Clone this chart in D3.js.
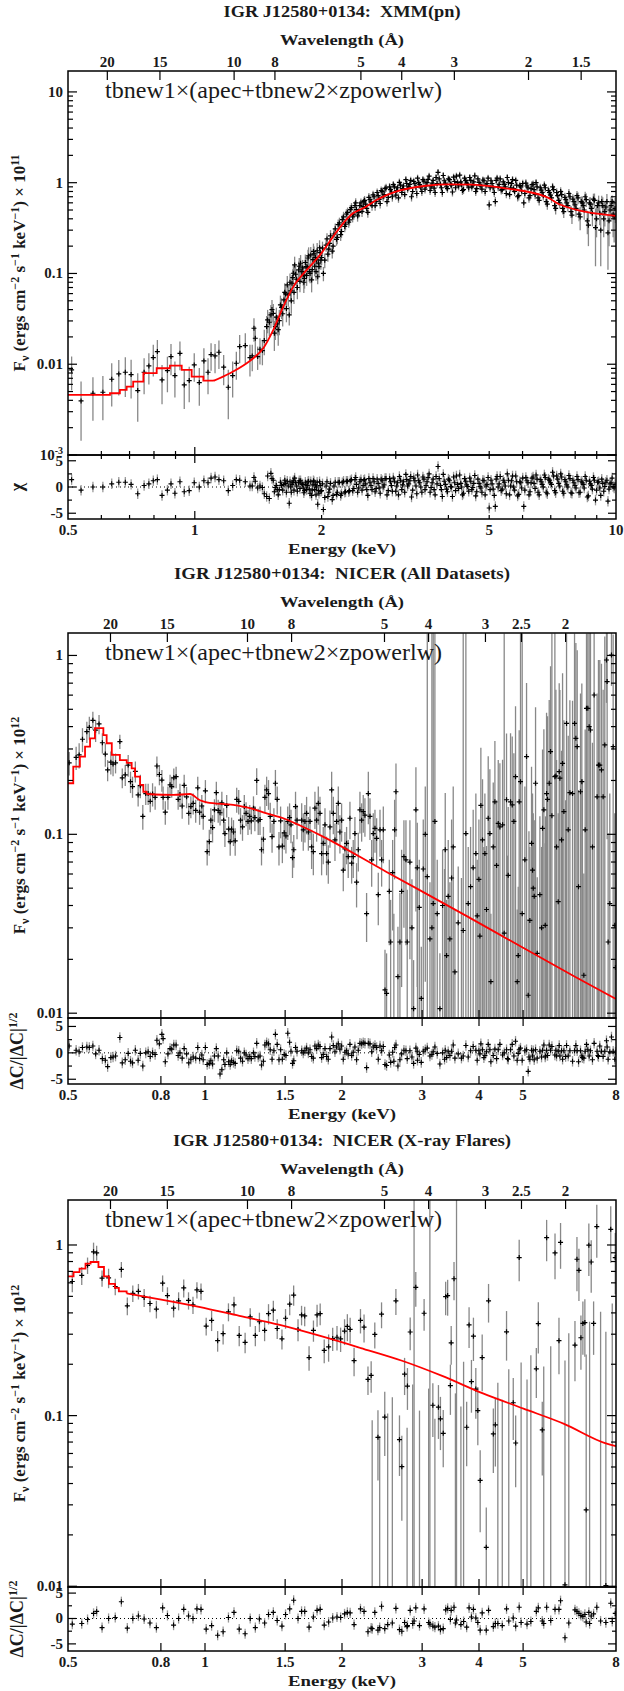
<!DOCTYPE html>
<html>
<head>
<meta charset="utf-8">
<script src="https://cdn.jsdelivr.net/npm/d3@7"></script>
<style>
body { margin: 0; background: #fff; }
svg { display: block; }
text { fill: #1a1a1a; white-space: pre; }
.tk { font-family: "Liberation Serif", serif; font-weight: bold; font-size: 15px; }
.ttl { font-family: "Liberation Serif", serif; font-weight: bold; }
.mdl { font-family: "Liberation Serif", serif; font-size: 23px; }
</style>
</head>
<body>
<svg id="chart" width="624" height="1691"></svg>
<script>
// ---- data: [energy keV, flux, sigma, residual] ----
var xmmData = [
 [0.510,0.00866,0.0035,1.4],[0.537,0.00394,0.0025,-0.6],[0.573,0.00479,0.0024,0],[0.605,0.00491,0.0025,0],
 [0.635,0.00683,0.0034,0.6],[0.660,0.00782,0.0033,0.9],[0.684,0.00816,0.0038,0.9],[0.706,0.00769,0.0035,0.5],
 [0.732,0.00513,0.0028,-1.3],[0.758,0.00816,0.0035,0.3],[0.778,0.00958,0.0036,0.6],[0.797,0.01184,0.0045,1.2],
 [0.815,0.01378,0.0047,1.4],[0.836,0.00672,0.0031,-1.6],[0.861,0.00851,0.0036,-0.6],[0.878,0.01215,0.0046,0.6],
 [0.897,0.0075,0.0032,-1.2],[0.922,0.0132,0.0046,1.0],[0.944,0.00592,0.0027,-0.9],[0.970,0.00661,0.0028,-0.7],
 [0.997,0.00983,0.0034,0.8],[1.025,0.00628,0.0028,0],[1.051,0.01088,0.0041,1.2],[1.075,0.00816,0.0035,0.8],
 [1.093,0.01277,0.0043,1.7],[1.117,0.01235,0.0044,1.9],[1.141,0.01355,0.0047,1.4],[1.171,0.00927,0.0034,1.2],
 [1.201,0.00558,0.0031,-0.7],[1.230,0.0075,0.0032,0.3],[1.255,0.01025,0.0035,1.4],[1.278,0.01564,0.0054,1.3],
 [1.318,0.01605,0.0059,1.0],[1.352,0.01184,0.0045,0.2],[1.369,0.01235,0.0040,0.2],[1.382,0.0249,0.0072,1.8],
 [1.392,0.01933,0.0067,1.1],[1.410,0.01215,0.0035,-0.2],[1.428,0.01462,0.0047,0.2],[1.447,0.01414,0.0044,-0.1],
 [1.462,0.01822,0.0057,-1.3],[1.481,0.0260,0.0080,-1.8],[1.489,0.0308,0.0089,2.1],[1.503,0.0290,0.0087,-2.2],
 [1.516,0.0349,0.0100,2.6],[1.536,0.0364,0.0098,1.3],[1.553,0.0260,0.0075,-0.1],[1.570,0.0278,0.0071,-0.5],
 [1.587,0.0303,0.0094,-0.5],[1.607,0.0424,0.011,0.3],[1.628,0.0511,0.012,0.5],[1.643,0.0595,0.015,0.7],
 [1.658,0.0747,0.019,1.1],[1.676,0.0349,0.0082,-3.1],[1.689,0.0642,0.015,0],[1.701,0.0780,0.018,0.5],
 [1.714,0.1005,0.024,1.2],[1.726,0.1241,0.029,1.7],[1.745,0.0863,0.023,0.2],[1.764,0.1093,0.026,0.8],
 [1.783,0.1295,0.030,1.2],[1.795,0.105,0.022,0.6],[1.810,0.0963,0.023,-0.2],[1.822,0.088,0.020,-0.7],
 [1.837,0.1190,0.028,0.4],[1.850,0.118,0.024,0.3],[1.863,0.1560,0.038,1.1],[1.878,0.100,0.022,-1.2],
 [1.894,0.0849,0.023,-1.6],[1.907,0.142,0.026,0.4],[1.919,0.1640,0.034,1.0],[1.946,0.1410,0.033,0],
 [1.958,0.092,0.016,-3.3],[1.972,0.1190,0.028,-1.2],[1.985,0.170,0.030,0.3],
 [1.525,0.040,0.011,1.6],[1.545,0.022,0.008,-0.9],[1.562,0.033,0.009,0.3],[1.578,0.024,0.008,-1.5],
 [1.597,0.045,0.012,0.9],[1.617,0.036,0.010,-0.6],[1.635,0.062,0.016,1.3],[1.650,0.041,0.012,-1.0],
 [1.667,0.058,0.015,0.2],[1.683,0.080,0.020,1.0],[1.695,0.050,0.014,-1.0],[1.708,0.090,0.021,0.8],
 [1.720,0.062,0.016,-0.6],[1.735,0.098,0.024,0.9],[1.752,0.070,0.018,-0.8],[1.770,0.120,0.028,1.2],
 [1.777,0.082,0.020,-0.3],[1.803,0.115,0.026,0.5],[1.815,0.080,0.019,-1.1],[1.830,0.132,0.030,0.9],
 [1.843,0.095,0.022,-0.5],[1.857,0.148,0.034,1.0],[1.870,0.105,0.024,-0.4],[1.885,0.160,0.036,1.0],
 [1.900,0.110,0.025,-0.6],[1.913,0.175,0.038,1.2],[1.926,0.120,0.027,-0.5],[1.933,0.150,0.032,0.4],
 [1.940,0.105,0.022,-1.5],[1.952,0.178,0.038,0.9],[1.965,0.130,0.028,-0.7],[1.978,0.192,0.040,1.0],
 [1.992,0.140,0.030,-0.8],
 [2.00,0.150,0.026,-0.7],[2.02,0.100,0.018,-4.3],[2.05,0.205,0.032,0.2],[2.07,0.163,0.028,-1.8],
 [2.09,0.214,0.034,-0.4],[2.12,0.176,0.030,-2.4],[2.14,0.272,0.040,0.2],[2.17,0.238,0.036,-1.4],
 [2.19,0.345,0.048,0.9],[2.22,0.268,0.040,-1.6],[2.24,0.392,0.052,0.8],[2.27,0.330,0.046,-1.0],
 [2.29,0.452,0.058,1.1],[2.32,0.368,0.050,-0.9],[2.34,0.505,0.062,1.2],[2.37,0.420,0.055,-0.7],
 [2.40,0.560,0.068,1.4],[2.42,0.505,0.062,0.5],[2.45,0.470,0.060,-0.2],[2.48,0.600,0.070,1.4],
 [2.51,0.545,0.066,0.3],[2.53,0.640,0.074,1.4],[2.56,0.520,0.064,-0.5],[2.59,0.690,0.078,1.6],
 [2.62,0.610,0.072,0.3],[2.65,0.735,0.082,1.6],[2.68,0.560,0.068,-0.9],[2.71,0.780,0.085,1.5],
 [2.74,0.655,0.076,-0.2],[2.77,0.820,0.088,1.5],[2.80,0.700,0.080,0],[2.83,0.860,0.090,1.6],
 [2.86,0.620,0.074,-1.5],[2.90,0.900,0.093,1.6],[2.93,0.790,0.086,0.3],[2.96,0.950,0.096,1.7],
 [3.00,0.730,0.082,-0.8],[3.03,0.880,0.092,0.8],[3.06,1.010,0.100,2.0],[3.10,0.780,0.086,-0.5],
 [3.13,0.920,0.094,1.0],[3.17,1.080,0.104,2.4],[3.20,0.860,0.090,0.2],[3.24,0.960,0.096,1.2],
 [3.27,0.700,0.080,-1.9],[3.31,1.030,0.100,1.7],[3.35,0.890,0.092,0.2],[3.38,1.120,0.106,2.3],
 [3.42,0.950,0.095,0.8],[3.46,0.800,0.085,-1.0],[3.50,1.040,0.100,1.5],[3.54,0.930,0.094,0.3],
 [3.58,1.090,0.104,1.8],[3.62,0.820,0.088,-1.0],[3.66,0.990,0.098,0.8],[3.70,0.870,0.090,-0.5],
 [3.74,1.140,0.108,2.0],[3.78,1.300,0.116,3.9],[3.83,0.960,0.096,0.3],[3.87,0.780,0.086,-1.8],
 [3.91,1.050,0.100,1.1],[3.96,0.900,0.092,-0.4],[4.00,1.100,0.104,1.5],[4.05,0.960,0.096,0.1],
 [4.09,0.790,0.086,-1.8],[4.14,1.030,0.100,0.8],[4.18,1.180,0.110,2.1],[4.23,0.920,0.094,-0.3],
 [4.28,1.020,0.100,0.7],[4.32,0.820,0.088,-1.5],[4.37,1.120,0.106,1.6],[4.42,0.990,0.098,0.4],
 [4.47,0.880,0.092,-0.8],[4.52,1.060,0.102,1.1],[4.57,0.940,0.095,-0.1],[4.62,1.190,0.110,2.2],
 [4.67,0.860,0.090,-0.9],[4.73,1.010,0.100,0.7],[4.78,0.920,0.094,-0.2],[4.83,1.070,0.103,1.3],
 [4.89,0.800,0.087,-1.5],[4.94,0.980,0.098,0.5],[5.00,0.570,0.070,-4.0],[5.05,1.050,0.102,1.3],
 [5.11,0.880,0.092,-0.4],[5.17,0.620,0.074,-3.7],[5.22,1.120,0.106,2.0],[5.28,0.960,0.096,0.6],
 [5.34,0.830,0.089,-0.7],[5.40,1.020,0.100,1.3],[5.46,0.900,0.092,0.2],[5.52,1.140,0.108,2.5],
 [5.59,0.740,0.082,-1.5],[5.65,0.980,0.098,1.2],[5.71,0.860,0.090,0],[5.78,1.060,0.102,2.1],
 [5.84,0.700,0.080,-1.7],[5.91,0.930,0.094,1.0],[5.97,0.810,0.088,-0.2],[6.04,0.600,0.074,-3.7],
 [6.11,0.990,0.098,1.8],[6.18,0.880,0.092,0.8],[6.25,0.720,0.082,-0.9],[6.32,0.950,0.096,1.7],
 [6.39,0.840,0.090,0.7],[6.46,1.000,0.100,2.3],[6.53,0.680,0.080,-1.0],[6.61,0.880,0.092,1.4],
 [6.68,0.780,0.086,0.5],[6.76,0.940,0.096,2.3],[6.83,0.620,0.078,-1.0],[6.91,0.820,0.088,1.5],
 [6.99,0.730,0.084,0.8],[7.07,0.900,0.094,2.8],[7.15,0.560,0.074,-0.7],[7.23,0.780,0.088,2.1],
 [7.31,0.640,0.080,0.7],[7.39,0.800,0.090,2.5],[7.47,0.520,0.072,-0.8],[7.56,0.690,0.084,1.4],
 [7.64,0.600,0.080,0.4],[7.73,0.760,0.090,2.2],[7.82,0.480,0.072,-1.1],[7.90,0.660,0.084,1.3],
 [7.99,0.570,0.080,0.3],[8.08,0.720,0.092,2.0],[8.17,0.450,0.074,-1.1],[8.27,0.620,0.086,1.1],
 [8.36,0.560,0.082,0.5],[8.45,0.700,0.094,2.0],[8.55,0.380,0.110,-1.9],[8.65,0.600,0.088,1.1],
 [8.74,0.520,0.084,0.3],[8.84,0.660,0.096,1.8],[8.94,0.320,0.200,-2.5],[9.04,0.560,0.090,0.9],
 [9.15,0.460,0.120,-0.2],[9.25,0.620,0.098,1.5],[9.35,0.400,0.150,-0.8],[9.46,0.540,0.094,0.9],
 [9.57,0.280,0.170,-2.7],[9.68,0.500,0.120,0.6],[9.79,0.620,0.104,1.7],[9.90,0.420,0.200,-0.2],
 [2.01,0.190,0.034,0.6],[2.035,0.140,0.026,-2.0],[2.06,0.240,0.038,1.0],[2.08,0.185,0.032,-1.0],
 [2.10,0.260,0.040,0.7],[2.13,0.200,0.034,-1.6],[2.155,0.310,0.046,0.9],[2.18,0.250,0.040,-1.0],
 [2.205,0.360,0.052,0.9],[2.23,0.290,0.044,-1.3],[2.255,0.420,0.058,1.1],[2.28,0.350,0.050,-0.9],
 [2.305,0.470,0.062,1.1],[2.33,0.390,0.054,-0.7],[2.355,0.530,0.066,1.4],[2.385,0.450,0.060,-0.3],
 [2.41,0.600,0.072,1.8],[2.435,0.430,0.058,-1.0],[2.465,0.560,0.068,1.0],[2.495,0.480,0.062,-0.6],
 [2.52,0.620,0.072,1.3],[2.545,0.580,0.070,0.6],[2.575,0.470,0.060,-1.6],[2.605,0.650,0.076,0.9],
 [2.635,0.560,0.070,-0.5],[2.665,0.700,0.080,1.0],[2.695,0.620,0.074,-0.3],[2.725,0.720,0.082,0.7],
 [2.755,0.590,0.072,-1.2],[2.785,0.800,0.088,1.2],[2.815,0.740,0.084,0.4],[2.845,0.880,0.092,1.6],
 [2.88,0.690,0.080,-0.7],[2.915,0.840,0.090,1.0],[2.945,0.700,0.082,-0.8],[2.98,0.900,0.094,1.1],
 [3.015,0.820,0.090,0.2],[3.045,0.680,0.080,-1.5],[3.08,0.940,0.096,1.3],[3.115,0.860,0.092,0.4],
 [3.15,0.740,0.084,-1.0],[3.185,0.980,0.098,1.4],[3.22,0.900,0.094,0.6],[3.255,1.060,0.104,2.0],
 [3.29,0.800,0.088,-0.6],[3.33,0.980,0.098,1.2],[3.365,0.760,0.086,-1.3],[3.40,1.000,0.100,1.2],
 [3.44,0.880,0.092,0],[3.48,1.080,0.104,1.9],[3.52,0.850,0.090,-0.5],[3.56,1.000,0.100,1.0],
 [3.60,1.180,0.110,2.5],[3.64,0.900,0.094,-0.1],[3.68,1.060,0.102,1.5],[3.72,0.780,0.086,-1.5],
 [3.76,0.980,0.098,0.6],[3.805,1.100,0.106,1.6],[3.85,0.880,0.092,-0.5],[3.89,1.200,0.112,2.4],
 [3.935,0.990,0.098,0.5],[3.98,0.860,0.090,-0.9],[4.025,1.080,0.104,1.3],[4.07,0.940,0.096,0],
 [4.115,1.150,0.108,1.9],[4.16,0.880,0.092,-0.7],[4.205,1.000,0.100,0.5],[4.255,1.210,0.112,2.3],
 [4.30,0.950,0.096,0],[4.345,0.840,0.090,-1.2],[4.395,1.060,0.102,1.1],[4.445,0.960,0.096,0.1],
 [4.495,1.140,0.108,1.7],[4.545,0.900,0.094,-0.5],[4.595,1.020,0.100,0.7],[4.645,0.800,0.088,-1.7],
 [4.70,1.100,0.104,1.5],[4.755,0.950,0.096,0.1],[4.805,0.850,0.090,-1.0],[4.86,1.050,0.102,1.2],
 [4.915,0.940,0.096,0.2],[4.97,1.120,0.106,1.8],[5.025,0.880,0.092,-0.5],[5.08,0.980,0.098,0.6],
 [5.14,0.780,0.086,-1.6],[5.195,1.060,0.102,1.5],[5.25,0.900,0.094,0],[5.31,1.100,0.106,2.0],
 [5.37,0.840,0.090,-0.4],[5.43,0.960,0.096,0.9],[5.49,0.760,0.086,-1.3],[5.555,1.000,0.100,1.3],
 [5.62,0.880,0.092,0.2],[5.68,1.080,0.104,2.1],[5.745,0.800,0.088,-0.6],[5.81,0.940,0.096,1.0],
 [5.875,0.720,0.082,-1.4],[5.94,0.900,0.094,0.8],[6.005,0.980,0.098,1.7],[6.075,0.760,0.086,-0.6],
 [6.145,0.920,0.094,1.2],[6.215,0.680,0.080,-1.5],[6.285,0.860,0.092,0.8],[6.355,0.960,0.098,1.9],
 [6.425,0.740,0.084,-0.3],[6.495,0.900,0.094,1.5],[6.57,0.640,0.078,-1.5],[6.645,0.830,0.090,1.0],
 [6.72,0.720,0.084,0],[6.795,0.880,0.094,1.8],[6.87,0.580,0.076,-1.3],[6.95,0.780,0.088,1.3],
 [7.03,0.680,0.082,0.5],[7.11,0.840,0.092,2.1],[7.19,0.520,0.074,-1.1],[7.27,0.720,0.086,1.5],
 [7.35,0.600,0.080,0.2],[7.43,0.740,0.090,1.9],[7.515,0.480,0.072,-1.2],[7.60,0.650,0.084,1.0],
 [7.685,0.560,0.080,0],[7.775,0.700,0.090,1.6],[7.86,0.440,0.090,-1.2],[7.945,0.620,0.090,0.8],
 [8.035,0.520,0.100,-0.2],[8.125,0.680,0.100,1.4],[8.22,0.420,0.120,-1.0],[8.315,0.600,0.100,0.8],
 [8.405,0.500,0.110,-0.2],[8.50,0.650,0.110,1.3],[8.60,0.340,0.140,-1.7],[8.695,0.580,0.110,0.6],
 [8.79,0.460,0.130,-0.4],[8.89,0.640,0.120,1.3],[8.99,0.400,0.150,-0.6],[9.095,0.600,0.120,1.0],
 [9.20,0.300,0.180,-1.6],[9.30,0.560,0.130,0.7],[9.405,0.480,0.150,0.1],[9.515,0.620,0.130,1.3],
 [9.625,0.380,0.180,-0.4],[9.735,0.560,0.140,0.8],[9.845,0.450,0.200,0.1],[9.95,0.520,0.160,0.5]
];
var xmmModel = [
 [0.5,0.00459],[0.585,0.00459],[0.629,0.00479],[0.664,0.00522],[0.689,0.00567],[0.714,0.00644],
 [0.755,0.00796],[0.812,0.00903],[0.873,0.00967],[0.931,0.00866],[0.983,0.00731],[1.048,0.00661],
 [1.107,0.00655],[1.212,0.00796],[1.328,0.01025],[1.377,0.01164],[1.454,0.0150],[1.536,0.0239],
 [1.622,0.0431],[1.714,0.0716],[1.844,0.1093],[1.983,0.16],[2.13,0.2545],[2.25,0.357],[2.375,0.46],
 [2.51,0.522],[2.70,0.645],[3.0,0.797],[3.54,0.925],[4.02,0.96],[4.56,0.95],[5.47,0.867],[6.8,0.702],
 [6.99,0.66],[7.31,0.582],[10,0.43]
];

var nicerData = [
 [0.503,0.251,0.038,1.3],[0.521,0.269,0.040,0.5],[0.529,0.278,0.045,0.2],[0.538,0.340,0.052,1.0],
 [0.550,0.375,0.051,1.1],[0.557,0.396,0.058,1.0],[0.567,0.434,0.050,1.3],[0.575,0.382,0.054,-0.2],
 [0.585,0.414,0.051,0.5],[0.595,0.325,0.042,-1.1],[0.604,0.281,0.042,-1.4],[0.611,0.229,0.031,-2.6],
 [0.621,0.253,0.037,-0.9],[0.628,0.247,0.036,-0.8],[0.636,0.251,0.032,-0.6],[0.650,0.330,0.030,2.9],
 [0.658,0.207,0.026,-1.9],[0.668,0.215,0.029,-1.3],[0.678,0.244,0.034,-0.1],[0.686,0.197,0.027,-1.6],
 [0.693,0.185,0.025,-1.9],[0.703,0.225,0.030,0.5],[0.713,0.166,0.023,-1.4],[0.721,0.187,0.028,-0.1],
 [0.730,0.126,0.020,-2.5],[0.741,0.169,0.023,0],[0.750,0.169,0.023,0.2],[0.758,0.153,0.020,-0.7],
 [0.767,0.168,0.025,0],[0.777,0.161,0.024,-0.3],[0.784,0.241,0.031,2.4],[0.794,0.216,0.028,1.7],
 [0.804,0.201,0.028,3.5],[0.809,0.161,0.024,2.7],[0.818,0.133,0.020,-1.7],[0.829,0.161,0.024,-0.2],
 [0.838,0.189,0.026,0.8],[0.845,0.185,0.025,0.7],[0.854,0.207,0.026,1.5],[0.864,0.210,0.029,1.5],
 [0.873,0.157,0.020,-0.5],[0.881,0.167,0.025,0],[0.891,0.144,0.022,-1.0],[0.900,0.188,0.027,0.8],
 [0.911,0.162,0.022,-0.2],[0.921,0.131,0.018,-1.9],[0.931,0.143,0.020,-1.2],[0.942,0.149,0.020,-0.8],
 [0.954,0.136,0.020,-1.0],[0.964,0.182,0.028,1.0],[0.973,0.133,0.020,-1.1],[0.984,0.144,0.022,-0.4],
 [0.991,0.126,0.020,-1.3],[1.002,0.175,0.026,1.0],[1.011,0.080,0.013,-2.2],[1.022,0.091,0.015,-2.0],
 [1.030,0.120,0.020,-1.5],[1.039,0.109,0.019,-2.1],[1.049,0.137,0.020,-0.6],[1.059,0.171,0.026,0.8],
 [1.069,0.136,0.020,-0.6],[1.079,0.132,0.020,-4.0],[1.089,0.150,0.023,-3.2],[1.099,0.120,0.020,-1.3],
 [1.106,0.101,0.016,-2.2],[1.116,0.145,0.021,0],[1.127,0.107,0.018,-1.7],[1.136,0.091,0.015,-2.2],
 [1.144,0.107,0.017,-1.5],[1.155,0.103,0.017,-1.8],[1.165,0.092,0.016,-2.0],[1.174,0.157,0.025,0.4],
 [1.186,0.153,0.024,0.3],[1.197,0.120,0.020,-1.0],[1.209,0.110,0.018,-1.6],[1.220,0.143,0.023,0],
 [1.231,0.131,0.020,-0.4],[1.243,0.118,0.019,-1.1],[1.254,0.126,0.020,-0.7],[1.264,0.119,0.019,-1.1],
 [1.278,0.140,0.023,0],[1.287,0.124,0.020,-0.7],[1.299,0.200,0.034,1.8],[1.309,0.119,0.020,-0.8],
 [1.321,0.121,0.022,-0.6],[1.331,0.082,0.015,-2.3],[1.344,0.094,0.016,-1.6],[1.354,0.161,0.028,1.5],
 [1.366,0.177,0.033,1.9],[1.379,0.169,0.032,1.7],[1.391,0.126,0.024,0.6],[1.404,0.097,0.018,-1.2],
 [1.417,0.118,0.022,0.4],[1.428,0.193,0.036,3.5],[1.441,0.157,0.028,1.6],[1.454,0.085,0.018,-1.3],
 [1.466,0.119,0.024,0.6],[1.479,0.086,0.017,-1.2],[1.493,0.102,0.020,-0.3],[1.506,0.098,0.020,-0.5],
 [1.520,0.118,0.025,3.7],[1.534,0.124,0.025,2.0],[1.545,0.113,0.024,0.3],[1.557,0.074,0.017,-2.0],
 [1.567,0.082,0.017,-1.5],[1.581,0.143,0.030,1.0],[1.593,0.120,0.026,0.3],
 [1.631,0.120,0.029,0.4],[1.644,0.106,0.025,0],[1.658,0.118,0.028,0.4],[1.672,0.131,0.031,0.9],
 [1.687,0.103,0.022,0],[1.701,0.118,0.025,0.6],[1.715,0.085,0.021,-0.7],[1.730,0.080,0.021,-1.0],
 [1.744,0.140,0.033,1.3],[1.759,0.120,0.029,0.8],[1.774,0.149,0.036,1.5],[1.789,0.131,0.031,1.2],
 [1.804,0.078,0.019,-0.9],[1.819,0.089,0.021,-0.3],[1.835,0.113,0.027,0.8],[1.850,0.078,0.019,-0.7],
 [1.866,0.070,0.017,-1.2],[1.882,0.110,0.026,0.8],[1.898,0.177,0.047,3.0],[1.914,0.131,0.031,1.4],
 [1.930,0.093,0.022,0.2],[1.946,0.118,0.028,1.1],[1.963,0.149,0.036,1.7],[1.979,0.103,0.025,0.7],
 [1.996,0.120,0.029,1.3],[2.013,0.063,0.015,-1.2],[2.030,0.083,0.020,0.1],[2.047,0.089,0.021,0.4],
 [2.064,0.075,0.018,-0.2],[2.082,0.123,0.029,1.6],[2.100,0.069,0.016,-0.5],[2.117,0.075,0.018,0.1],
 [2.135,0.101,0.024,1.1],[2.153,0.054,0.015,-1.3],[2.172,0.082,0.020,0.5],[2.190,0.137,0.036,1.8],
 [2.209,0.120,0.029,1.7],[2.227,0.134,0.032,1.9],[2.246,0.128,0.031,1.8],[2.265,0.036,0.011,-2.8],
 [2.285,0.169,0.055,1.8],[2.304,0.126,0.033,1.7],[2.324,0.072,0.021,0.2],[2.343,0.101,0.030,1.1],
 [2.363,0.108,0.029,1.4],[2.383,0.095,0.028,1.0],[2.403,0.046,0.015,-1.2],[2.424,0.106,0.031,1.3],
 [2.444,0.072,0.021,0.4],[2.465,0.106,0.037,1.2],[2.486,0.0135,0.0091,-2.2],[2.506,0.0129,0.0087,-2.4],
 [2.541,0.048,0.024,-0.4],[2.558,0.025,0.018,-1.8],[2.584,0.061,0.032,0.1],[2.610,0.106,0.050,1.0],
 [2.628,0.173,0.076,1.5],[2.654,0.016,0.0144,-2.5],[2.681,0.025,0.022,-1.3],[2.704,0.048,0.034,-0.2],
 [2.736,0.075,0.045,0.5],[2.764,0.072,0.048,0.4],[2.782,0.025,0.024,-1.1],[2.820,0.070,0.050,0.4],
 [2.849,0.030,0.026,-0.8],[2.873,0.0106,0.0092,-2.0],[2.907,0.137,0.10,0.9],[2.927,0.065,0.051,0.3],
 [2.957,0.039,0.033,-0.3],[2.987,0.0121,0.0114,-1.8],[3.017,0.064,0.057,0.3],[3.048,0.100,0.085,0.6],
 [3.079,0.058,1.27,0.9],[3.121,0.026,0.028,-0.6],[3.152,0.030,1.3,-0.3],[3.173,0.041,1.29,0.2],
 [3.200,0.118,1.21,1.1],[3.238,0.036,0.036,-0.1],[3.282,0.0106,0.011,-2.1],[3.327,0.040,0.042,0],
 [3.372,0.082,0.088,0.5],[3.395,0.021,0.022,-0.9],[3.423,0.045,0.048,0.2],[3.452,0.026,0.028,-0.5],
 [3.482,0.057,0.064,0.3],[3.511,0.085,0.10,1.5],[3.541,0.017,0.021,-1.0],[3.601,0.032,0.034,-0.2],
 [3.693,0.029,1.3,-0.6],[3.743,0.101,1.23,1.4],[3.788,0.041,0.044,-0.8],[3.833,0.051,0.059,0.4],
 [3.884,0.065,0.072,1.2],[3.937,0.078,0.091,0.5],[3.964,0.035,0.037,-1.4],[3.998,0.056,0.065,0.4],
 [4.018,0.027,0.029,-0.2],[4.038,0.145,0.16,1.7],[4.072,0.093,0.11,0.6],[4.121,0.078,0.091,-0.5],
 [4.155,0.038,0.048,0.2],[4.191,0.123,0.15,1.6],[4.226,0.101,0.13,0.6],[4.248,0.015,0.021,-1.7],
 [4.299,0.085,0.11,-0.5],[4.335,0.152,0.18,0.7],[4.372,0.067,0.088,-1.1],[4.409,0.115,0.145,0.6],
 [4.446,0.110,0.14,1.6],[4.507,0.113,0.148,-0.4],[4.544,0.028,1.3,0],[4.598,0.156,0.21,0.6],
 [4.637,0.059,0.083,-1.2],[4.692,0.152,0.215,0.6],[4.732,0.146,0.206,1.6],[4.772,0.118,0.166,-0.6],
 [4.812,0.210,0.31,2.2],[4.853,0.015,0.023,-1.4],[4.878,0.021,0.030,-0.1],[4.902,0.152,0.23,0.6],
 [4.935,0.197,1.13,0.9],[4.977,0.036,1.29,-1.4],[5.045,0.072,0.113,0.4],[5.088,0.272,0.43,0.6],
 [5.131,0.0126,0.021,-3.5],[5.174,0.033,0.052,-1.2],[5.218,0.089,0.15,0.5],[5.245,0.063,0.106,-0.6],
 [5.263,0.050,0.081,0.4],[5.289,0.045,0.075,-1.3],[5.325,0.193,0.32,0.6],[5.370,0.0216,0.036,-1.0],
 [5.443,0.046,0.080,0.3],[5.489,0.030,0.055,-0.8],[5.517,0.108,0.19,0.5],[5.554,0.137,0.25,1.5],
 [5.592,0.031,0.058,-0.8],[5.630,0.169,0.31,0.5],[5.658,0.157,0.30,-0.5],[5.706,0.193,0.37,1.5],
 [5.745,0.290,0.58,0.5],[5.784,0.127,1.2,1.2],[5.872,0.210,1.12,-0.4],[5.902,0.212,0.43,0.5],
 [5.922,0.085,0.175,-0.6],[5.972,0.042,0.089,0.3],[6.002,0.224,0.475,1.4],[6.023,0.206,0.435,-0.6],
 [6.074,0.093,0.20,0.4],[6.105,0.249,0.545,-1.2],[6.146,0.134,0.30,0.4],[6.229,0.417,0.91,1.4],
 [6.282,0.106,0.25,-0.6],[6.335,0.171,0.39,0.4],[6.421,0.169,0.39,-1.6],[6.486,0.417,0.91,0.4],
 [6.530,0.344,0.83,1.4],[6.574,0.309,0.76,0.4],[6.619,0.051,0.126,-1.7],[6.685,0.173,0.44,0.4],
 [6.730,0.197,0.50,-0.6],[6.799,0.0163,0.044,-1.0],[6.845,0.106,0.28,0.3],[6.891,0.506,0.82,1.6],
 [6.937,0.506,0.82,0.6],[6.984,0.400,0.93,-0.6],[7.031,0.383,0.95,0.4],[7.102,0.085,0.24,-1.3],
 [7.162,0.601,0.73,1.8],[7.271,0.162,0.45,0.3],[7.321,0.244,0.70,-0.7],[7.370,0.244,0.70,1.3],
 [7.433,0.229,0.67,0.3],[7.496,0.162,0.48,-0.7],[7.559,0.316,0.96,0.3],[7.624,0.943,0.40,2.3],
 [7.649,0.714,0.62,1.1],[7.688,0.025,0.076,-1.2],[7.753,0.041,0.128,0.2],[7.819,1.006,0.33,3.0],
 [7.886,0.309,1.0,0.3],[7.952,0.031,0.10,-1.2],[7.980,0.018,0.06,0.1],
 [2.60,0.006,0.03,-1.6],[2.93,0.005,0.045,-1.4],[3.36,0.004,0.06,-1.2],[3.66,0.007,0.05,-1.0],
 [4.10,0.005,0.08,-0.9],[4.62,0.006,0.07,-1.1],[5.15,0.004,0.1,-0.8],[5.60,0.006,0.12,-0.6],
 [6.20,0.005,0.15,-0.7],[6.75,0.003,0.2,-0.9],[7.30,0.006,0.25,-0.5]
];
var nicerModel = [
 [0.5,0.193],[0.5135,0.239],[0.531,0.272],[0.545,0.309],[0.559,0.344],[0.573,0.392],[0.598,0.359],
 [0.608,0.323],[0.624,0.278],[0.65,0.26],[0.673,0.251],[0.69,0.234],[0.702,0.21],[0.72,0.189],
 [0.732,0.173],[0.744,0.168],[0.852,0.166],[0.927,0.168],[0.975,0.155],[1.009,0.151],[1.153,0.146],
 [1.256,0.14],[1.366,0.131],[1.486,0.123],[1.618,0.112],[1.79,0.099],[2.5,0.0618],[3.76,0.0349],
 [5.0,0.0232],[6.5,0.016],[8.0,0.012]
];

var flareData = [
 [0.511,0.611,0.083,-1.1],[0.536,0.663,0.080,-1.0],[0.552,0.760,0.084,-0.2],[0.569,0.912,0.12,1.0],
 [0.578,0.899,0.09,1.4],[0.594,0.639,0.070,-1.8],[0.614,0.642,0.084,0],[0.635,0.571,0.063,0.2],
 [0.655,0.719,0.076,3.3],[0.675,0.440,0.053,-1.9],[0.694,0.521,0.058,0],[0.714,0.535,0.056,0.5],
 [0.735,0.493,0.060,-0.1],[0.757,0.454,0.050,-0.9],[0.782,0.421,0.050,-1.8],[0.807,0.597,0.066,2.1],
 [0.827,0.505,0.060,0.6],[0.853,0.426,0.050,-1.3],[0.875,0.471,0.057,0],[0.898,0.560,0.068,1.8],
 [0.920,0.473,0.055,0.5],[0.941,0.446,0.052,0],[0.960,0.545,0.060,1.9],[0.980,0.535,0.060,1.8],
 [1.006,0.335,0.040,-2.1],[1.034,0.362,0.049,-1.4],[1.066,0.275,0.038,-3.3],[1.096,0.302,0.041,-2.6],
 [1.126,0.406,0.049,0.2],[1.158,0.446,0.052,1.2],[1.189,0.295,0.040,-2.1],[1.225,0.269,0.037,-3.0],
 [1.257,0.379,0.047,0],[1.290,0.295,0.040,-1.8],[1.317,0.355,0.046,-0.1],[1.352,0.316,0.043,-0.9],
 [1.379,0.396,0.054,0.8],[1.413,0.415,0.056,1.2],[1.441,0.324,0.043,-0.4],[1.476,0.282,0.038,-1.5],
 [1.503,0.372,0.049,0.8],[1.535,0.450,0.062,1.9],[1.566,0.509,0.069,3.6],[1.601,0.320,0.047,0],
 [1.630,0.389,0.051,1.4],[1.656,0.384,0.050,1.4],[1.693,0.219,0.036,-1.7],[1.731,0.316,0.045,0.3],
 [1.763,0.389,0.057,1.6],[1.791,0.396,0.058,1.8],[1.828,0.241,0.038,-1.3],[1.869,0.253,0.046,-0.7],
 [1.908,0.283,0.044,0.1],[1.950,0.288,0.047,0.3],[1.986,0.282,0.046,0.2],[2.026,0.313,0.054,0.9],
 [2.055,0.333,0.060,1.2],[2.084,0.320,0.055,1.1],[2.126,0.210,0.040,-1.2],[2.196,0.362,0.059,1.9],
 [2.236,0.330,0.062,1.4],[2.281,0.163,0.031,-2.6],[2.318,0.172,0.036,-1.9],[2.361,0.299,0.052,1.2],
 [2.399,0.0746,0.033,-2.3],[2.443,0.393,0.068,2.4],[2.483,0.098,0.040,-2.0],[2.627,0.471,0.082,2.0],
 [2.675,0.0723,0.028,-2.2],[2.707,0.0502,0.026,-2.5],[2.745,0.175,0.043,-0.8],[2.785,0.149,0.041,-1.4],
 [2.824,0.309,0.067,1.6],[2.905,0.565,0.13,2.1],[3.030,0.398,0.084,1.9],[3.167,0.115,0.040,-1.5],
 [3.258,0.112,0.039,-1.5],[3.291,0.0958,0.033,-2.2],[3.338,0.0788,0.029,-2.0],[3.379,0.498,0.11,1.7],
 [3.413,0.505,0.12,2.0],[3.461,0.150,0.049,-0.2],[3.475,0.267,0.068,1.6],[3.525,0.634,0.16,2.2],
 [3.758,0.0855,0.035,-1.7],[3.804,0.340,0.091,2.1],[3.850,0.158,0.054,0.3],[3.889,0.292,0.083,1.8],
 [3.936,0.143,0.047,0.1],[3.976,0.107,0.040,-0.8],[4.024,0.0417,0.021,-2.3],[4.065,0.219,0.080,1.1],
 [4.198,0.471,0.12,1.6],[4.301,0.0781,0.032,-1.6],[4.345,0.0883,0.038,-1.0],[4.598,0.310,0.10,1.9],
 [4.757,0.119,0.047,0.1],[4.815,0.0691,0.031,-1.5],[4.902,0.844,0.23,2.2],[5.346,0.188,0.061,1.4],
 [5.400,0.346,0.115,2.1],[5.509,0.0825,0.038,-0.5],[5.632,1.103,0.30,2.2],[5.876,0.899,0.27,1.8],
 [5.995,0.275,0.10,1.8],[6.043,1.035,0.31,3.5],[6.500,0.259,0.10,1.7],[6.566,0.825,0.29,1.4],
 [6.632,0.710,0.24,1.0],[6.699,0.286,0.10,0.6],[6.766,0.347,0.12,0.4],[6.834,0.351,0.13,0.8],
 [6.973,0.998,0.34,1.2],[7.057,0.795,0.27,0.5],[7.143,0.347,0.12,0.9],[7.259,1.282,0.44,2.2],
 [7.790,1.236,0.45,3.0],[7.970,0.844,0.33,1.0],
 [2.33,0.004,0.09,-2.0],[2.42,0.006,0.07,-1.8],[2.52,0.003,0.1,-1.2],[2.58,0.008,0.12,-0.9],
 [2.78,0.005,0.08,-1.6],[2.86,0.002,0.15,-1.0],[2.88,0.006,2.0,-0.5],[2.96,0.007,0.1,-1.4],
 [3.10,0.004,0.14,-0.8],[3.12,0.005,2.0,-1.1],[3.20,0.006,0.09,-1.7],[3.55,0.005,0.13,-0.9],
 [3.57,0.004,2.0,-0.3],[3.65,0.003,0.11,-1.2],[3.70,0.007,0.2,-0.6],[4.15,0.0169,0.012,-2.3],
 [4.40,0.006,0.15,-1.0],[4.50,0.004,0.12,-1.4],[4.65,0.007,0.18,-0.5],[4.95,0.005,0.2,-0.8],
 [5.10,0.003,0.16,-1.1],[5.20,0.006,0.22,-0.6],[5.55,0.004,0.19,-1.0],[5.75,0.005,0.25,-0.4],
 [6.18,0.0102,0.2,-3.8],[6.30,0.004,0.3,-0.9],[6.88,0.028,0.2,-0.7],[7.00,0.005,0.35,-1.0],
 [7.40,0.006,0.4,-0.5],[7.60,0.0101,0.3,-0.8],[7.85,0.004,0.45,-0.6]
];
var flareModel = [
 [0.5,0.654],[0.5143,0.693],[0.5301,0.726],[0.5463,0.777],[0.5605,0.795],[0.5833,0.743],[0.5998,0.654],
 [0.6152,0.592],[0.634,0.56],[0.6467,0.535],[0.6727,0.52],[0.79,0.482],[0.97,0.434],[1.19,0.384],
 [1.46,0.34],[1.80,0.292],[2.2,0.249],[2.71,0.2097],[3.32,0.1709],[4.08,0.1349],[5.01,0.1099],
 [6.15,0.0895],[7.6,0.0688],[8.0,0.0663]
];

// axis labels
var xmmEnergyLabels = [0.5, 1, 2, 5, 10];
var nicerEnergyLabels = [0.5, 0.8, 1, 1.5, 2, 3, 4, 5, 8];
var xmmWaveLabels = [20, 15, 10, 8, 5, 4, 3, 2, 1.5];
var nicerWaveLabels = [20, 15, 10, 8, 5, 4, 3, 2.5, 2];
var xmmFluxLabels = [10, 1, 0.1, 0.01, 0.001];
var nicerFluxLabels = [1, 0.1, 0.01];
var resLabels = [5, 0, -5];
var resTicks = [-5, -2.5, 0, 2.5, 5];

var HC = 12.398;   // keV * Angstrom
var LEFT = 68, RIGHT = 616;
var svg = d3.select("#chart");

function cross(cx, cy) {
  return "M" + (cx - 2.5) + "," + cy + "h5M" + cx + "," + (cy - 2.5) + "v5";
}

function fluxText(sel, v) {
  if (v === 0.001) {
    sel.text("10");
    sel.append("tspan").attr("dy", -6).style("font-size", "10px").text("-3");
  } else {
    sel.text(String(v));
  }
}

function drawPanel(p) {
  var x = d3.scaleLog().domain(p.xDom).range([LEFT, RIGHT]);
  var y = d3.scaleLog().domain(p.yDom).range([p.div, p.top]);
  var r = d3.scaleLinear().domain(p.rDom).range([p.bot, p.div]);

  var defs = svg.append("defs");
  defs.append("clipPath").attr("id", p.id + "m").append("rect")
      .attr("x", LEFT).attr("y", p.top).attr("width", RIGHT - LEFT).attr("height", p.div - p.top);
  defs.append("clipPath").attr("id", p.id + "r").append("rect")
      .attr("x", LEFT).attr("y", p.div).attr("width", RIGHT - LEFT).attr("height", p.bot - p.div);

  // main spectrum
  var lo = p.yDom[0] * 0.5, hi = p.yDom[1] * 2;
  var main = svg.append("g").attr("clip-path", "url(#" + p.id + "m)");
  main.selectAll("line").data(p.data).enter().append("line")
      .attr("x1", function(d) { return x(d[0]); })
      .attr("x2", function(d) { return x(d[0]); })
      .attr("y1", function(d) { return y(Math.max(d[1] - d[2], lo)); })
      .attr("y2", function(d) { return y(Math.min(d[1] + d[2], hi)); })
      .attr("stroke", "#888").attr("stroke-width", 1.3);
  main.selectAll("path.pt")
      .data(p.data.filter(function(d) { return d[1] >= p.yDom[0] && d[1] <= p.yDom[1]; }))
      .enter().append("path").attr("class", "pt")
      .attr("d", function(d) { return cross(x(d[0]), y(d[1])); })
      .attr("stroke", "#000").attr("stroke-width", 1.2).attr("fill", "none");

  var line = d3.line().x(function(d) { return x(d[0]); }).y(function(d) { return y(d[1]); });
  main.append("path")
      .datum(p.model.filter(function(d) { return d[0] <= p.stepEnd; }))
      .attr("d", line.curve(d3.curveStepAfter))
      .attr("fill", "none").attr("stroke", "#ff0000").attr("stroke-width", 1.8);
  main.append("path")
      .datum(p.model.filter(function(d) { return d[0] >= p.stepEnd; }))
      .attr("d", line.curve(d3.curveMonotoneX))
      .attr("fill", "none").attr("stroke", "#ff0000").attr("stroke-width", 1.8);

  // residuals
  var res = svg.append("g").attr("clip-path", "url(#" + p.id + "r)");
  res.append("line").attr("x1", LEFT).attr("x2", RIGHT).attr("y1", r(0)).attr("y2", r(0))
      .attr("stroke", "#000").attr("stroke-width", 1).attr("stroke-dasharray", "1,3");
  res.selectAll("line.re").data(p.data).enter().append("line").attr("class", "re")
      .attr("x1", function(d) { return x(d[0]); })
      .attr("x2", function(d) { return x(d[0]); })
      .attr("y1", function(d) { return r(d[3] - 1); })
      .attr("y2", function(d) { return r(d[3] + 1); })
      .attr("stroke", "#999").attr("stroke-width", 1.3);
  res.selectAll("path.rp").data(p.data).enter().append("path").attr("class", "rp")
      .attr("d", function(d) { return cross(x(d[0]), r(d[3])); })
      .attr("stroke", "#000").attr("stroke-width", 1.1).attr("fill", "none");

  // frames
  [[p.top, p.div], [p.div, p.bot]].forEach(function(b) {
    svg.append("rect").attr("x", LEFT).attr("y", b[0]).attr("width", RIGHT - LEFT).attr("height", b[1] - b[0])
        .attr("fill", "none").attr("stroke", "#000").attr("stroke-width", 1.5);
  });

  var ticks = svg.append("g").attr("stroke", "#000").attr("stroke-width", 1.2);

  // flux axis ticks (log)
  y.ticks().filter(function(t) { return t >= p.yDom[0] && t <= p.yDom[1]; }).forEach(function(t) {
    var lg = Math.log10(t), len = Math.abs(lg - Math.round(lg)) < 1e-6 ? 9 : 5;
    ticks.append("line").attr("x1", LEFT).attr("x2", LEFT + len).attr("y1", y(t)).attr("y2", y(t));
    ticks.append("line").attr("x1", RIGHT).attr("x2", RIGHT - len).attr("y1", y(t)).attr("y2", y(t));
  });
  p.fluxLabels.forEach(function(v) {
    var t = svg.append("text").attr("class", "tk").attr("x", LEFT - 5).attr("y", y(v) + 5)
        .attr("text-anchor", "end");
    fluxText(t, v);
  });

  // residual axis ticks
  resTicks.forEach(function(v) {
    var len = v % 5 === 0 ? 8 : 4;
    ticks.append("line").attr("x1", LEFT).attr("x2", LEFT + len).attr("y1", r(v)).attr("y2", r(v));
    ticks.append("line").attr("x1", RIGHT).attr("x2", RIGHT - len).attr("y1", r(v)).attr("y2", r(v));
  });
  resLabels.forEach(function(v) {
    svg.append("text").attr("class", "tk").attr("x", LEFT - 5).attr("y", r(v) + 5)
        .attr("text-anchor", "end").text(String(v));
  });

  // energy ticks
  var eTicks = p.minorE ? x.ticks() : p.energyLabels;
  eTicks.forEach(function(e) {
    if (e <= p.xDom[0] || e >= p.xDom[1]) return;
    var lg = Math.log10(e);
    var len = p.minorE ? (Math.abs(lg - Math.round(lg)) < 1e-6 ? 8 : 4) : 8;
    var xx = x(e);
    ticks.append("line").attr("x1", xx).attr("x2", xx).attr("y1", p.div).attr("y2", p.div - len);
    ticks.append("line").attr("x1", xx).attr("x2", xx).attr("y1", p.div).attr("y2", p.div + len);
    ticks.append("line").attr("x1", xx).attr("x2", xx).attr("y1", p.bot).attr("y2", p.bot - len);
  });
  p.energyLabels.forEach(function(e) {
    svg.append("text").attr("class", "tk").attr("x", x(e)).attr("y", p.bot + 16)
        .attr("text-anchor", "middle").text(String(e));
  });

  // wavelength axis on top
  p.waveLabels.forEach(function(w) {
    var xx = x(HC / w);
    ticks.append("line").attr("x1", xx).attr("x2", xx).attr("y1", p.top).attr("y2", p.top + 9);
    svg.append("text").attr("class", "tk").attr("x", xx).attr("y", p.top - 4)
        .attr("text-anchor", "middle").text(String(w));
  });

  // titles
  svg.append("text").attr("class", "ttl").style("font-size", "16px")
      .attr("x", (LEFT + RIGHT) / 2).attr("y", p.top - 54).attr("text-anchor", "middle")
      .attr("textLength", p.titleWidth).attr("lengthAdjust", "spacingAndGlyphs").text(p.title);
  svg.append("text").attr("class", "ttl").style("font-size", "15.5px")
      .attr("x", (LEFT + RIGHT) / 2).attr("y", p.top - 26).attr("text-anchor", "middle")
      .attr("textLength", 124).attr("lengthAdjust", "spacingAndGlyphs").text("Wavelength (Å)");
  svg.append("text").attr("class", "ttl").style("font-size", "15.5px")
      .attr("x", (LEFT + RIGHT) / 2).attr("y", p.bot + 35).attr("text-anchor", "middle")
      .attr("textLength", 108).attr("lengthAdjust", "spacingAndGlyphs").text("Energy (keV)");
  svg.append("text").attr("class", "mdl").attr("x", LEFT + 37).attr("y", p.top + 27)
      .attr("textLength", 337).attr("lengthAdjust", "spacingAndGlyphs")
      .text("tbnew1×(apec+tbnew2×zpowerlw)");

  // flux axis title
  var yt = svg.append("text").attr("class", "ttl").style("font-size", "17px")
      .attr("transform", "translate(25," + ((p.top + p.div) / 2) + ") rotate(-90)")
      .attr("text-anchor", "middle");
  yt.append("tspan").text("F");
  yt.append("tspan").attr("dy", 4).style("font-size", "12px").text("ν");
  yt.append("tspan").attr("dy", -4).text(" (ergs cm");
  yt.append("tspan").attr("dy", -6).style("font-size", "12px").text("−2");
  yt.append("tspan").attr("dy", 6).text(" s");
  yt.append("tspan").attr("dy", -6).style("font-size", "12px").text("−1");
  yt.append("tspan").attr("dy", 6).text(" keV");
  yt.append("tspan").attr("dy", -6).style("font-size", "12px").text("−1");
  yt.append("tspan").attr("dy", 6).text(") × 10");
  yt.append("tspan").attr("dy", -6).style("font-size", "12px").text(p.scale);

  // residual axis title
  var rt = svg.append("text").attr("class", "ttl").style("font-size", "18px")
      .attr("transform", "translate(23," + ((p.div + p.bot) / 2) + ") rotate(-90)")
      .attr("text-anchor", "middle");
  if (p.chi) {
    rt.text("χ");
  } else {
    rt.append("tspan").text("ΔC/|ΔC|");
    rt.append("tspan").attr("dy", -6).style("font-size", "12px").text("1/2");
  }
}

drawPanel({ id: "p1", title: "IGR J12580+0134:  XMM(pn)", titleWidth: 237, top: 71, div: 455, bot: 519,
  xDom: [0.5, 10], yDom: [0.001, 17], rDom: [-6.1, 6.1], data: xmmData, model: xmmModel,
  stepEnd: 1.107, energyLabels: xmmEnergyLabels, waveLabels: xmmWaveLabels, fluxLabels: xmmFluxLabels,
  minorE: true, scale: "11", chi: true });
drawPanel({ id: "p2", title: "IGR J12580+0134:  NICER (All Datasets)", titleWidth: 336, top: 633, div: 1018, bot: 1084,
  xDom: [0.5, 8], yDom: [0.0094, 1.335], rDom: [-5.9, 6.6], data: nicerData, model: nicerModel,
  stepEnd: 0.744, energyLabels: nicerEnergyLabels, waveLabels: nicerWaveLabels, fluxLabels: nicerFluxLabels,
  minorE: false, scale: "12", chi: false });
drawPanel({ id: "p3", title: "IGR J12580+0134:  NICER (X-ray Flares)", titleWidth: 338, top: 1200, div: 1587, bot: 1651,
  xDom: [0.5, 8], yDom: [0.0099, 1.835], rDom: [-6.4, 6.2], data: flareData, model: flareModel,
  stepEnd: 0.6727, energyLabels: nicerEnergyLabels, waveLabels: nicerWaveLabels, fluxLabels: nicerFluxLabels,
  minorE: false, scale: "12", chi: false });
</script>
</body>
</html>
